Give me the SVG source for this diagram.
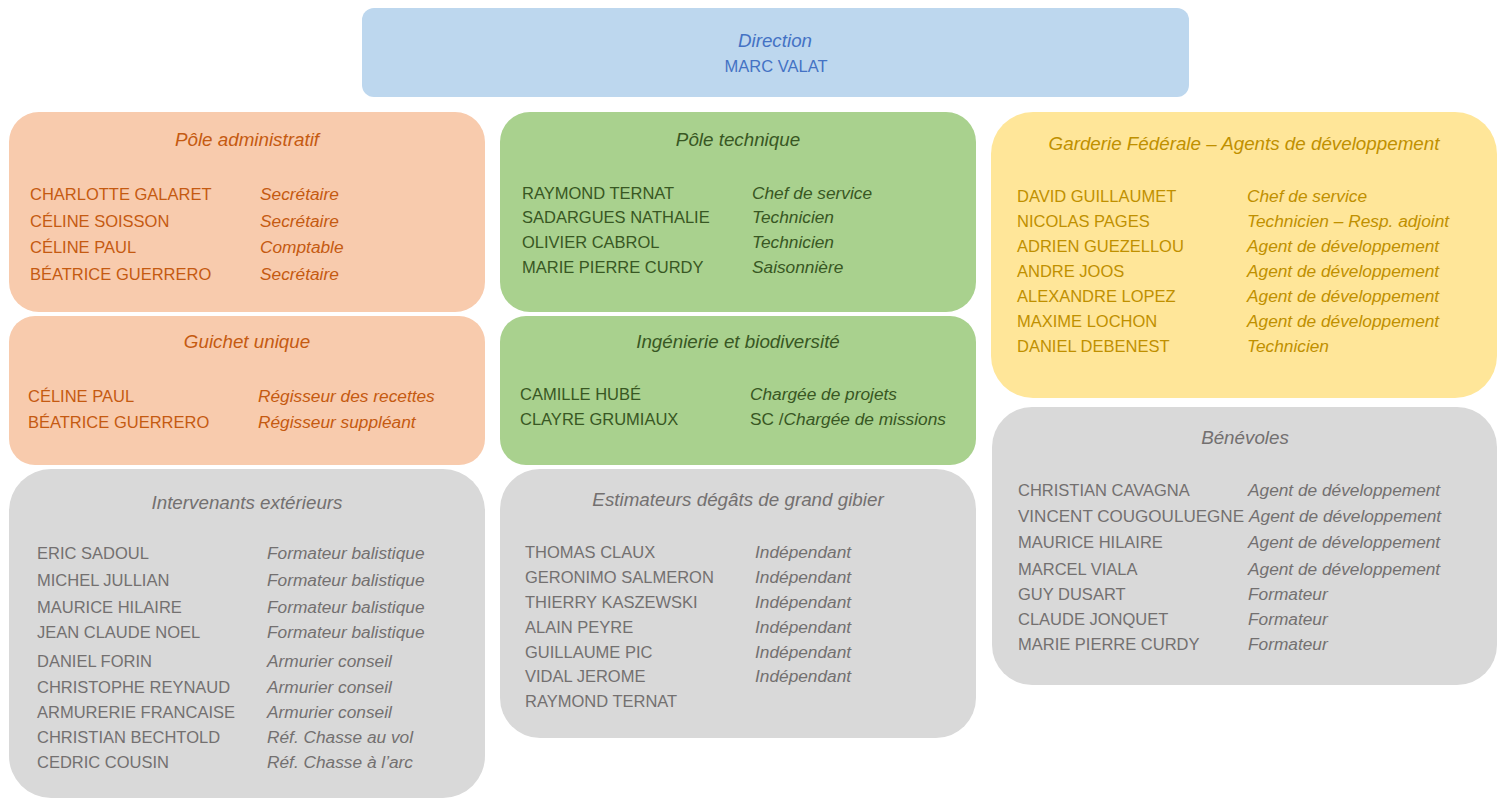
<svg xmlns="http://www.w3.org/2000/svg" width="1499" height="799" viewBox="0 0 1499 799">
<style>
text{font-family:"Liberation Sans",Arial,sans-serif}
.t{font-style:italic;font-size:18.8px;text-anchor:middle}
.n{font-size:16.5px}
.r{font-style:italic;font-size:17.3px}
.blue rect{fill:#BDD7EE}.blue text{fill:#4472C4}
.org rect{fill:#F8CBAD}.org text{fill:#C55A11}
.grn rect{fill:#A9D18E}.grn text{fill:#385723}
.yel rect{fill:#FFE699}.yel text{fill:#BF9000}
.gry rect{fill:#D9D9D9}.gry text{fill:#737070}
</style>
<rect width="1499" height="799" fill="#fff"/>
<g id="connectors"/>
<g id="direction" class="blue">
<rect x="362" y="8" width="827" height="89" rx="12"/>
<text class="t" x="775" y="47">Direction</text>
<text class="n" x="776" y="72" text-anchor="middle">MARC VALAT</text>
</g>
<g id="pole-administratif" class="org">
<rect x="9" y="112" width="476" height="200" rx="30"/>
<text class="t" x="247" y="146">Pôle administratif</text>
<text class="n" x="30" y="200">CHARLOTTE GALARET</text><text class="r" x="260" y="200">Secrétaire</text>
<text class="n" x="30" y="227">CÉLINE SOISSON</text><text class="r" x="260" y="227">Secrétaire</text>
<text class="n" x="30" y="253">CÉLINE PAUL</text><text class="r" x="260" y="253">Comptable</text>
<text class="n" x="30" y="280">BÉATRICE GUERRERO</text><text class="r" x="260" y="280">Secrétaire</text>
</g>
<g id="guichet-unique" class="org">
<rect x="9" y="316" width="476" height="149" rx="26"/>
<text class="t" x="247" y="348">Guichet unique</text>
<text class="n" x="28" y="402">CÉLINE PAUL</text><text class="r" x="258" y="402">Régisseur des recettes</text>
<text class="n" x="28" y="428">BÉATRICE GUERRERO</text><text class="r" x="258" y="428">Régisseur suppléant</text>
</g>
<g id="intervenants" class="gry">
<rect x="9" y="469" width="476" height="329" rx="42"/>
<text class="t" x="247" y="509">Intervenants extérieurs</text>
<text class="n" x="37" y="559">ERIC SADOUL</text><text class="r" x="267" y="559">Formateur balistique</text>
<text class="n" x="37" y="586">MICHEL JULLIAN</text><text class="r" x="267" y="586">Formateur balistique</text>
<text class="n" x="37" y="613">MAURICE HILAIRE</text><text class="r" x="267" y="613">Formateur balistique</text>
<text class="n" x="37" y="638">JEAN CLAUDE NOEL</text><text class="r" x="267" y="638">Formateur balistique</text>
<text class="n" x="37" y="667">DANIEL FORIN</text><text class="r" x="267" y="667">Armurier conseil</text>
<text class="n" x="37" y="693">CHRISTOPHE REYNAUD</text><text class="r" x="267" y="693">Armurier conseil</text>
<text class="n" x="37" y="718">ARMURERIE FRANCAISE</text><text class="r" x="267" y="718">Armurier conseil</text>
<text class="n" x="37" y="743">CHRISTIAN BECHTOLD</text><text class="r" x="267" y="743">Réf. Chasse au vol</text>
<text class="n" x="37" y="768">CEDRIC COUSIN</text><text class="r" x="267" y="768">Réf. Chasse à l’arc</text>
</g>
<g id="pole-technique" class="grn">
<rect x="500" y="112" width="476" height="200" rx="30"/>
<text class="t" x="738" y="146">Pôle technique</text>
<text class="n" x="522" y="199">RAYMOND TERNAT</text><text class="r" x="752" y="199">Chef de service</text>
<text class="n" x="522" y="223">SADARGUES NATHALIE</text><text class="r" x="752" y="223">Technicien</text>
<text class="n" x="522" y="248">OLIVIER CABROL</text><text class="r" x="752" y="248">Technicien</text>
<text class="n" x="522" y="273">MARIE PIERRE CURDY</text><text class="r" x="752" y="273">Saisonnière</text>
</g>
<g id="ingenierie" class="grn">
<rect x="500" y="316" width="476" height="149" rx="26"/>
<text class="t" x="738" y="348">Ingénierie et biodiversité</text>
<text class="n" x="520" y="400">CAMILLE HUBÉ</text><text class="r" x="750" y="400">Chargée de projets</text>
<text class="n" x="520" y="425">CLAYRE GRUMIAUX</text><text class="r" x="750" y="425"><tspan font-style="normal">SC /</tspan>Chargée de missions</text>
</g>
<g id="estimateurs" class="gry">
<rect x="500" y="469" width="476" height="269" rx="40"/>
<text class="t" x="738" y="506">Estimateurs dégâts de grand gibier</text>
<text class="n" x="525" y="558">THOMAS CLAUX</text><text class="r" x="755" y="558">Indépendant</text>
<text class="n" x="525" y="583">GERONIMO SALMERON</text><text class="r" x="755" y="583">Indépendant</text>
<text class="n" x="525" y="608">THIERRY KASZEWSKI</text><text class="r" x="755" y="608">Indépendant</text>
<text class="n" x="525" y="633">ALAIN PEYRE</text><text class="r" x="755" y="633">Indépendant</text>
<text class="n" x="525" y="658">GUILLAUME PIC</text><text class="r" x="755" y="658">Indépendant</text>
<text class="n" x="525" y="682">VIDAL JEROME</text><text class="r" x="755" y="682">Indépendant</text>
<text class="n" x="525" y="707">RAYMOND TERNAT</text>
</g>
<g id="garderie" class="yel">
<rect x="991" y="112" width="506" height="286" rx="42"/>
<text class="t" x="1244" y="150">Garderie Fédérale – Agents de développement</text>
<text class="n" x="1017" y="202">DAVID GUILLAUMET</text><text class="r" x="1247" y="202">Chef de service</text>
<text class="n" x="1017" y="227">NICOLAS PAGES</text><text class="r" x="1247" y="227">Technicien – Resp. adjoint</text>
<text class="n" x="1017" y="252">ADRIEN GUEZELLOU</text><text class="r" x="1247" y="252">Agent de développement</text>
<text class="n" x="1017" y="277">ANDRE JOOS</text><text class="r" x="1247" y="277">Agent de développement</text>
<text class="n" x="1017" y="302">ALEXANDRE LOPEZ</text><text class="r" x="1247" y="302">Agent de développement</text>
<text class="n" x="1017" y="327">MAXIME LOCHON</text><text class="r" x="1247" y="327">Agent de développement</text>
<text class="n" x="1017" y="352">DANIEL DEBENEST</text><text class="r" x="1247" y="352">Technicien</text>
</g>
<g id="benevoles" class="gry">
<rect x="992" y="407" width="505" height="278" rx="40"/>
<text class="t" x="1245" y="444">Bénévoles</text>
<text class="n" x="1018" y="496">CHRISTIAN CAVAGNA</text><text class="r" x="1248" y="496">Agent de développement</text>
<text class="n" x="1018" y="522" textLength="226" lengthAdjust="spacingAndGlyphs">VINCENT COUGOULUEGNE</text><text class="r" x="1249" y="522">Agent de développement</text>
<text class="n" x="1018" y="548">MAURICE HILAIRE</text><text class="r" x="1248" y="548">Agent de développement</text>
<text class="n" x="1018" y="575">MARCEL VIALA</text><text class="r" x="1248" y="575">Agent de développement</text>
<text class="n" x="1018" y="600">GUY DUSART</text><text class="r" x="1248" y="600">Formateur</text>
<text class="n" x="1018" y="625">CLAUDE JONQUET</text><text class="r" x="1248" y="625">Formateur</text>
<text class="n" x="1018" y="650">MARIE PIERRE CURDY</text><text class="r" x="1248" y="650">Formateur</text>
</g>
</svg>
